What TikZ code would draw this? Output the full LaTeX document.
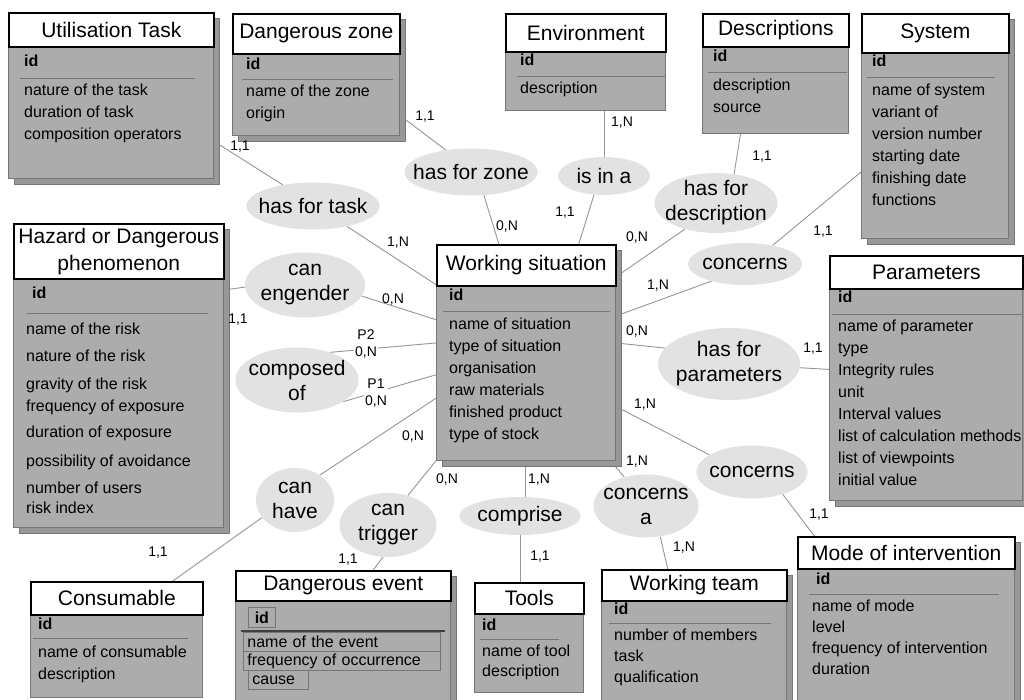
\documentclass[tikz,border=0pt]{standalone}
\usepackage{fontspec}
\setmainfont{Liberation Sans}
\usetikzlibrary{positioning, shapes.geometric, shadows, calc, backgrounds}

\definecolor{bodygray}{RGB}{172,172,172}
\definecolor{shadowgray}{RGB}{152,152,152}
\definecolor{relgray}{RGB}{226,226,226}
\definecolor{linegray}{RGB}{150,150,150}
\definecolor{sepgray}{RGB}{118,118,118}

\tikzset{
    entity/.style={draw=sepgray, fill=bodygray, line width=0.8pt,
        inner sep=0pt, anchor=north west},
    shad/.style={drop shadow={shadow xshift=6pt, shadow yshift=-6pt,
        fill=shadowgray, draw=sepgray, opacity=1}},
    enttitle/.style={draw=black, fill=white, line width=1.6pt,
        inner sep=0pt, anchor=north west, align=center,
        font=\fontsize{21}{27}\selectfont},
    keyattr/.style={anchor=north west, inner sep=0pt,
        font=\fontsize{16}{22}\selectfont\bfseries},
    attrs/.style={anchor=north west, inner sep=0pt, align=left,
        font=\fontsize{16}{22}\selectfont},
    evattr/.style={draw=sepgray, line width=0.8pt, anchor=north west,
        inner xsep=4pt, inner ysep=0pt, minimum height=19pt, align=left,
        font=\fontsize{16}{18}\selectfont},
    sepline/.style={draw=sepgray, line width=0.7pt},
    relation/.style={ellipse, fill=relgray, inner xsep=-12pt,
        inner ysep=-2pt, align=center, font=\fontsize{21}{25}\selectfont},
    link/.style={draw=linegray, line width=0.9pt},
    card/.style={inner sep=1pt, align=center,
        font=\fontsize{14}{17}\selectfont},
}

\begin{document}
\begin{tikzpicture}[x=1pt, y=-1pt]

\useasboundingbox (0,0) rectangle (1024,700);

% entities
\node[entity, shad,
        minimum width=205pt,
        minimum height=166pt] (UT) at (8,12) {};
\node[enttitle,
        minimum width=205pt,
        minimum height=34pt] (UTt) at (UT.north west) {Utilisation Task};
\node[keyattr] (UTk) at (24,51) {\strut id};
\draw[sepline] (20,78) -- (195,78);
\node[attrs] (UTa) at (24,80)
    {\strut nature of the task\\duration of task\\composition operators};

\node[entity, shad,
        minimum width=167pt,
        minimum height=122pt] (DZ) at (232,13) {};
\node[enttitle,
        minimum width=167pt,
        minimum height=40pt] (DZt) at (DZ.north west) {Dangerous zone};
\node[keyattr] (DZk) at (246,54) {\strut id};
\draw[sepline] (242,79) -- (393,79);
\node[attrs] (DZa) at (246,81) {\strut name of the zone\\origin};

\node[entity,
        minimum width=160pt,
        minimum height=97pt] (Env) at (505,13) {};
\node[enttitle,
        minimum width=160pt,
        minimum height=38pt] (Envt) at (Env.north west) {Environment};
\node[keyattr] (Envk) at (520,50) {\strut id};
\draw[sepline] (517,76) -- (665,76);
\node[attrs] (Enva) at (520,78) {\strut description};

\node[entity,
        minimum width=146pt,
        minimum height=120pt] (Desc) at (702,13) {};
\node[enttitle,
        minimum width=146pt,
        minimum height=33pt] (Desct) at (Desc.north west) {Descriptions};
\node[keyattr] (Desck) at (713,46) {\strut id};
\draw[sepline] (708,72) -- (847,72);
\node[attrs] (Desca) at (713,75) {\strut description\\source};

\node[entity, shad,
        minimum width=147pt,
        minimum height=225pt] (Sys) at (861,13) {};
\node[enttitle,
        minimum width=147pt,
        minimum height=39pt] (Syst) at (Sys.north west) {System};
\node[keyattr] (Sysk) at (872,51) {\strut id};
\draw[sepline] (867,77) -- (995,77);
\node[attrs] (Sysa) at (872,80)
    {\strut name of system\\variant of\\version number\\starting date\\finishing date\\functions};

\node[entity, shad,
        minimum width=210pt,
        minimum height=304pt] (Haz) at (13,223) {};
\node[enttitle,
        minimum width=210pt,
        minimum height=55pt] (Hazt) at (Haz.north west) {Hazard or Dangerous\\phenomenon};
\node[keyattr] (Hazk) at (32,283) {\strut id};
\draw[sepline] (27,313) -- (208,313);
\node[attrs] (Haza) at (26,319)
    {\strut name of the risk\\[5pt]nature of the risk\\[6pt]gravity of the risk\\frequency of exposure\\[4pt]duration of exposure\\[7pt]possibility of avoidance\\[5pt]number of users\\[-2pt]risk index};

\node[entity, shad,
        minimum width=179pt,
        minimum height=216pt] (WS) at (436,244) {};
\node[enttitle,
        minimum width=179pt,
        minimum height=41pt] (WSt) at (WS.north west) {Working situation};
\node[keyattr] (WSk) at (449,285) {\strut id};
\draw[sepline] (443,311) -- (610,311);
\node[attrs] (WSa) at (449,314)
    {\strut name of situation\\type of situation\\organisation\\raw materials\\finished product\\type of stock};

\node[entity, shad,
        minimum width=193pt,
        minimum height=245pt] (Par) at (829,255) {};
\node[enttitle,
        minimum width=193pt,
        minimum height=33pt] (Part) at (Par.north west) {Parameters};
\node[keyattr] (Park) at (838,287) {\strut id};
\draw[sepline] (832,314) -- (1022,314);
\node[attrs] (Para) at (838,316)
    {\strut name of parameter\\type\\Integrity rules\\unit\\Interval values\\list of calculation methods\\list of viewpoints\\initial value};

\node[entity,
        minimum width=172pt,
        minimum height=116pt] (Cons) at (30,581) {};
\node[enttitle,
        minimum width=172pt,
        minimum height=33pt] (Const) at (Cons.north west) {Consumable};
\node[keyattr] (Consk) at (38,614) {\strut id};
\draw[sepline] (33,638) -- (188,638);
\node[attrs] (Consa) at (38,642) {\strut name of consumable\\description};

\node[entity, shad,
        minimum width=215pt,
        minimum height=142pt] (DE) at (235,570) {};
\node[enttitle,
        minimum width=215pt,
        minimum height=30pt] (DEt) at (DE.north west) {Dangerous event};
\node[draw=sepgray, line width=0.8pt,
        minimum width=27pt,
        minimum height=20pt,
        inner sep=0pt, anchor=north west,
        font=\fontsize{16}{18}\selectfont\bfseries] (DEk) at (248,607) {id};
\draw[line width=1.6pt, black!75] (241,631) -- (445,631);
\node[evattr, text width=189pt] (DEa) at (243,632) {name of the event};
\node[evattr, text width=189pt] (DEb) at (243,651) {frequency of occurrence};
\node[evattr, text width=52pt] (DEc) at (248,670) {cause};

\node[entity,
        minimum width=109pt,
        minimum height=110pt] (Tools) at (474,582) {};
\node[enttitle,
        minimum width=109pt,
        minimum height=31pt] (Toolst) at (Tools.north west) {Tools};
\node[keyattr] (Toolsk) at (482,615) {\strut id};
\draw[sepline] (480,639) -- (559,639);
\node[attrs] (Toolsa) at (482,641) {\strut name of tool\\[-2pt]description};

\node[entity, shad,
        minimum width=185pt,
        minimum height=143pt] (WT) at (601,569) {};
\node[enttitle,
        minimum width=185pt,
        minimum height=31pt] (WTt) at (WT.north west) {Working team};
\node[keyattr] (WTk) at (614,599) {\strut id};
\draw[sepline] (609,623) -- (771,623);
\node[attrs] (WTa) at (614,625) {\strut number of members\\[-1pt]task\\[-1pt]qualification};

\node[entity, shad,
        minimum width=217pt,
        minimum height=176pt] (Mode) at (797,536) {};
\node[enttitle,
        minimum width=217pt,
        minimum height=32pt] (Modet) at (Mode.north west) {Mode of intervention};
\node[keyattr] (Modek) at (816,569) {\strut id};
\draw[sepline] (809,594) -- (999,594);
\node[attrs] (Modea) at (812,596)
    {\strut name of mode\\[-1pt]level\\[-1pt]frequency of intervention\\[-1pt]duration};

% relations
\node[relation, minimum width=133pt, minimum height=47pt] (hTask) at (313,206) {has for task};
\node[relation, minimum width=133pt, minimum height=47pt] (hZone) at (471,172) {has for zone};
\node[relation, minimum width=92pt, minimum height=38pt] (isIn) at (604,176) {is in a};
\node[relation, minimum width=123pt, minimum height=60pt] (hDesc) at (716,203) {has for\\description};
\node[relation, minimum width=114pt, minimum height=42pt] (conS) at (745,264) {concerns};
\node[relation, minimum width=142pt, minimum height=72pt] (hPar) at (729,364) {has for\\parameters};
\node[relation, minimum width=120pt, minimum height=65pt] (canEng) at (305,285) {can\\engender};
\node[relation, minimum width=123pt, minimum height=65pt] (comp) at (297,380) {composed\\of};
\node[relation, minimum width=78pt, minimum height=64pt] (canHave) at (295,500) {can\\have};
\node[relation, minimum width=97pt, minimum height=64pt] (canTrig) at (388,525) {can\\trigger};
\node[relation, minimum width=121pt, minimum height=38pt] (compr) at (520,516) {comprise};
\node[relation, minimum width=105pt, minimum height=63pt] (conA) at (646,506) {concerns\\a};
\node[relation, minimum width=111pt, minimum height=53pt] (conM) at (752,472) {concerns};

% links
\begin{scope}[on background layer]
\fill[white] (0,0) rectangle (1024,700);
\draw[link] (UT.-24) -- (hTask.145);
\draw[link] (DZ.-26) -- (hZone.139);
\draw[link] (isIn.north |- Env.south) -- (isIn.north);
\draw[link] (Desc.-120) -- (hDesc.58);
\draw[link] (Sys.-148) -- (conS.34);
\draw[link] (hTask.-31) -- (WS.143);
\draw[link] (hZone.-61) -- (WS.104);
\draw[link] (isIn.-118) -- (WS.64);
\draw[link] (hDesc.-140) -- (WS.40);
\draw[link] (conS.-153) -- (WS.22);
\draw[link] (hPar.166) -- (WS.6);
\draw[link] (hPar.-3) -- (Par.175);
\draw[link] (WS.-31) -- (conM.158);
\draw[link] (conM.-36) -- (Mode.136);
\draw[link] (WS.-52) -- (conA.127);
\draw[link] (conA.-65) -- (WT.110);
\draw[link] (WS.south) -- (WS.south |- compr.north);
\draw[link] (compr.south) -- (compr.south |- Tools.north);
\draw[link] (WS.south west) -- (canTrig.56);
\draw[link] (canTrig.-99) -- (DE.67);
\draw[link] (WS.-153) -- (canHave.45);
\draw[link] (canHave.-152) -- (Cons.46);
\draw[link] (canEng.182) -- (Haz.39);
\draw[link] (canEng.-11) -- (WS.160);
\draw[link] (comp.40) -- (WS.174);
\draw[link] (comp.-25) -- (WS.-166);
\end{scope}

% cardinalities
\node[card] (c1) at (240,147) {1,1};
\node[card] (c2) at (425,117) {1,1};
\node[card] (c3) at (622,123) {1,N};
\node[card] (c4) at (762,157) {1,1};
\node[card] (c5) at (823,232) {1,1};
\node[card] (c6) at (398,243) {1,N};
\node[card] (c7) at (507,227) {0,N};
\node[card] (c8) at (565,213) {1,1};
\node[card] (c9) at (637,238) {0,N};
\node[card] (c10) at (658,286) {1,N};
\node[card] (c11) at (637,332) {0,N};
\node[card] (c12) at (813,349) {1,1};
\node[card] (c13) at (645,405) {1,N};
\node[card] (c14) at (819,515) {1,1};
\node[card] (c15) at (637,462) {1,N};
\node[card] (c16) at (684,548) {1,N};
\node[card] (c17) at (539,480) {1,N};
\node[card] (c18) at (540,557) {1,1};
\node[card] (c19) at (447,480) {0,N};
\node[card] (c20) at (348,560) {1,1};
\node[card] (c21) at (413,437) {0,N};
\node[card] (c22) at (158,553) {1,1};
\node[card] (c23) at (238,320) {1,1};
\node[card] (c24) at (393,300) {0,N};
\node[card, fill=white] (c25) at (366,344) {P2\\0,N};
\node[card, fill=white] (c26) at (376,393) {P1\\0,N};

\end{tikzpicture}
\end{document}
